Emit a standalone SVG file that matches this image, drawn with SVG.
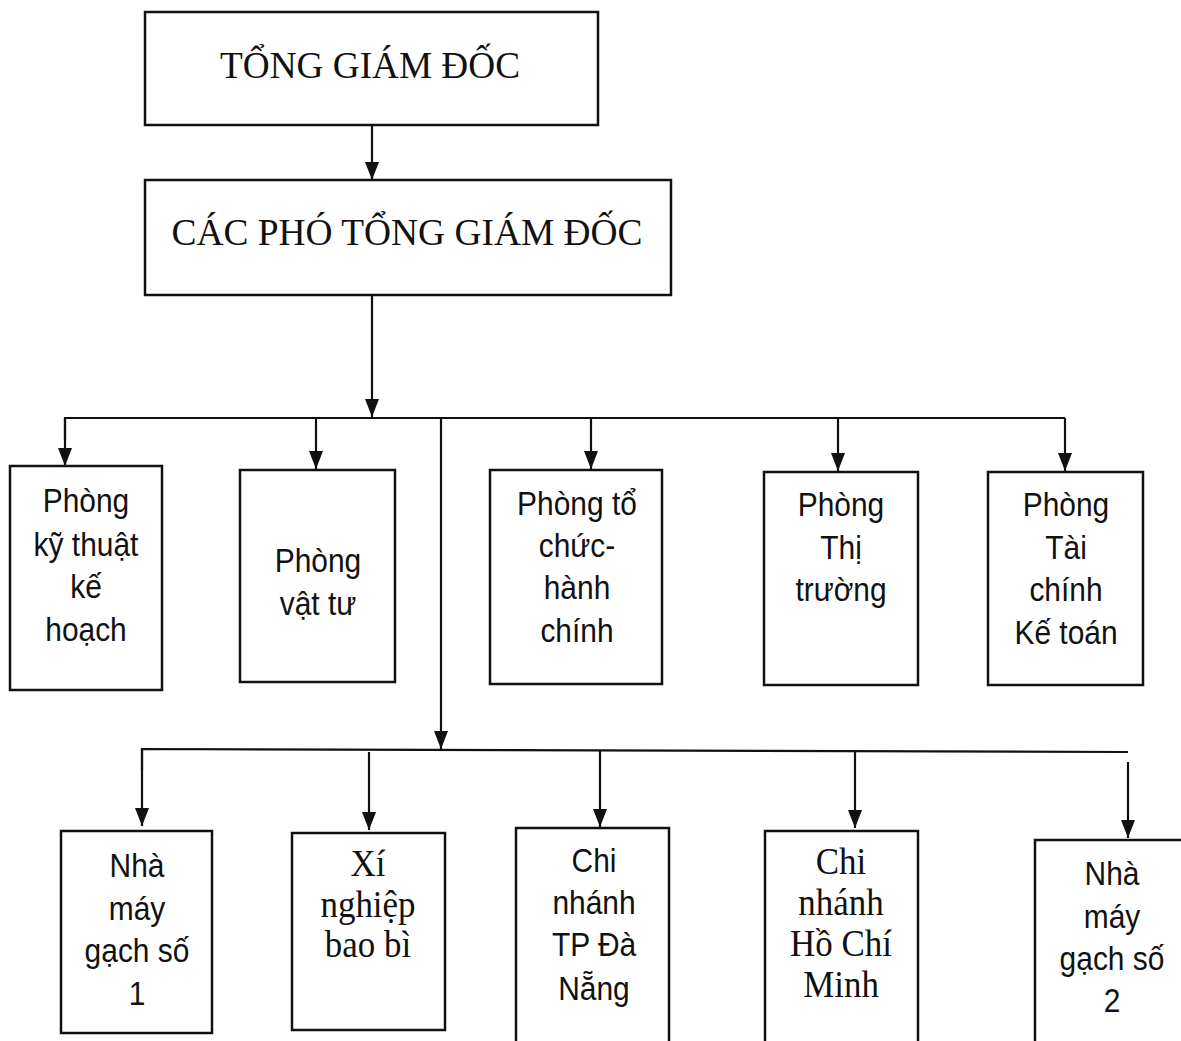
<svg xmlns="http://www.w3.org/2000/svg" width="1181" height="1041" viewBox="0 0 1181 1041">
<style>
.box{fill:#fff;stroke:#111;stroke-width:2.5}
.ln{stroke:#111;stroke-width:2.2;fill:none}
.sr{font-family:"Liberation Serif","Times New Roman",serif;fill:#111;text-anchor:middle}
.ss{font-family:"Liberation Sans",Arial,sans-serif;fill:#111;text-anchor:middle;font-size:34px}
.sr2{font-size:38px}
</style>
<defs>
<marker id="ah" markerWidth="18" markerHeight="14" refX="18" refY="7" orient="auto" markerUnits="userSpaceOnUse" viewBox="0 0 18 14">
<path d="M0,0 L18,7 L0,14 Z" fill="#111"/>
</marker>
</defs>
<rect width="1181" height="1041" fill="#fff"/>
<g id="connectors">
<line class="ln" x1="372" y1="125" x2="372" y2="180" marker-end="url(#ah)"/>
<line class="ln" x1="372" y1="295" x2="372" y2="417" marker-end="url(#ah)"/>
<polyline class="ln" points="65,440 65,418 1065,418"/>
<line class="ln" x1="65" y1="418" x2="65" y2="466" marker-end="url(#ah)"/>
<line class="ln" x1="316" y1="418" x2="316" y2="469" marker-end="url(#ah)"/>
<line class="ln" x1="591" y1="418" x2="591" y2="469" marker-end="url(#ah)"/>
<line class="ln" x1="838" y1="418" x2="838" y2="471" marker-end="url(#ah)"/>
<line class="ln" x1="1065" y1="418" x2="1065" y2="471" marker-end="url(#ah)"/>
<line class="ln" x1="441" y1="418" x2="441" y2="749" marker-end="url(#ah)"/>
<polyline class="ln" points="142,770 142,749 1128,752"/>
<line class="ln" x1="142" y1="749" x2="142" y2="826" marker-end="url(#ah)"/>
<line class="ln" x1="369" y1="752" x2="369" y2="830" marker-end="url(#ah)"/>
<line class="ln" x1="600" y1="750" x2="600" y2="827" marker-end="url(#ah)"/>
<line class="ln" x1="855" y1="751" x2="855" y2="828" marker-end="url(#ah)"/>
<line class="ln" x1="1128" y1="762" x2="1128" y2="838" marker-end="url(#ah)"/>
</g>
<g id="tgd">
<rect class="box" x="145" y="12" width="453" height="113"/>
<text class="sr" x="370" y="78" font-size="38" textLength="300" lengthAdjust="spacingAndGlyphs">TỔNG GIÁM ĐỐC</text>
</g>
<g id="ptgd">
<rect class="box" x="145" y="180" width="526" height="115"/>
<text class="sr" x="407" y="245" font-size="38" textLength="471" lengthAdjust="spacingAndGlyphs">CÁC PHÓ TỔNG GIÁM ĐỐC</text>
</g>
<g id="p-ktkh">
<rect class="box" x="10" y="466" width="152" height="224"/>
<text class="ss" transform="translate(86,0) scale(0.88,1)"><tspan x="0" y="512">Phòng</tspan><tspan x="0" y="556">kỹ thuật</tspan><tspan x="0" y="598">kế</tspan><tspan x="0" y="641">hoạch</tspan></text>
</g>
<g id="p-vt">
<rect class="box" x="240" y="470" width="155" height="212"/>
<text class="ss" transform="translate(318,0) scale(0.88,1)"><tspan x="0" y="572">Phòng</tspan><tspan x="0" y="615">vật tư</tspan></text>
</g>
<g id="p-tchc">
<rect class="box" x="490" y="470" width="172" height="214"/>
<text class="ss" transform="translate(577,0) scale(0.88,1)"><tspan x="0" y="515">Phòng tổ</tspan><tspan x="0" y="557">chức-</tspan><tspan x="0" y="599">hành</tspan><tspan x="0" y="642">chính</tspan></text>
</g>
<g id="p-tt">
<rect class="box" x="764" y="472" width="154" height="213"/>
<text class="ss" transform="translate(841,0) scale(0.88,1)"><tspan x="0" y="516">Phòng</tspan><tspan x="0" y="559">Thị</tspan><tspan x="0" y="601">trường</tspan></text>
</g>
<g id="p-tckt">
<rect class="box" x="988" y="472" width="155" height="213"/>
<text class="ss" transform="translate(1066,0) scale(0.88,1)"><tspan x="0" y="516">Phòng</tspan><tspan x="0" y="559">Tài</tspan><tspan x="0" y="601">chính</tspan><tspan x="0" y="644">Kế toán</tspan></text>
</g>
<g id="nm1">
<rect class="box" x="61" y="831" width="151" height="202"/>
<text class="ss" transform="translate(137,0) scale(0.88,1)"><tspan x="0" y="877">Nhà</tspan><tspan x="0" y="920">máy</tspan><tspan x="0" y="962">gạch số</tspan><tspan x="0" y="1005">1</tspan></text>
</g>
<g id="xnbb">
<rect class="box" x="292" y="833" width="153" height="197"/>
<text class="sr sr2" transform="translate(368,0) scale(0.92,1)"><tspan x="0" y="876">Xí</tspan><tspan x="0" y="917">nghiệp</tspan><tspan x="0" y="957">bao bì</tspan></text>
</g>
<g id="cn-dn">
<rect class="box" x="516" y="828" width="153" height="220"/>
<text class="ss" transform="translate(594,0) scale(0.88,1)"><tspan x="0" y="872">Chi</tspan><tspan x="0" y="914">nhánh</tspan><tspan x="0" y="956">TP Đà</tspan><tspan x="0" y="1000">Nẵng</tspan></text>
</g>
<g id="cn-hcm">
<rect class="box" x="765" y="831" width="153" height="220"/>
<text class="sr sr2" transform="translate(841,0) scale(0.92,1)"><tspan x="0" y="874">Chi</tspan><tspan x="0" y="915">nhánh</tspan><tspan x="0" y="956">Hồ Chí</tspan><tspan x="0" y="997">Minh</tspan></text>
</g>
<g id="nm2">
<rect class="box" x="1035" y="840" width="160" height="210"/>
<text class="ss" transform="translate(1112,0) scale(0.88,1)"><tspan x="0" y="885">Nhà</tspan><tspan x="0" y="928">máy</tspan><tspan x="0" y="970">gạch số</tspan><tspan x="0" y="1012">2</tspan></text>
</g>
</svg>
